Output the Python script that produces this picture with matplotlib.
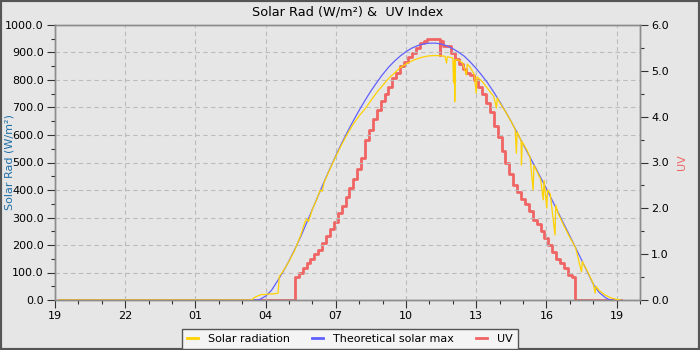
import matplotlib
matplotlib.use("Agg")
import matplotlib.pyplot as plt
from matplotlib.patches import Rectangle
from matplotlib.ticker import MultipleLocator

# -----------------------------
# Data (clock times, rolling over midnight; x axis = hours since 19:00)
# -----------------------------
X_TICK_LABELS = ["19", "22", "01", "04", "07", "10", "13", "16", "19"]

SOLAR_TIMES = [
    "19:10", "03:25", "03:30", "03:40", "03:50", "04:00", "04:10", "04:20", "04:32",
    "04:35", "04:45", "05:00", "05:15", "05:30", "05:40", "05:45", "05:50", "06:00",
    "06:10", "06:20", "06:25", "06:30", "06:45", "07:00", "07:15", "07:30", "07:45",
    "08:00", "08:15", "08:30", "08:45", "09:00", "09:15", "09:30", "09:45", "10:00",
    "10:15", "10:30", "10:45", "11:00", "11:15", "11:30", "11:40", "11:44", "11:46",
    "12:00", "12:02", "12:04", "12:05", "12:07", "12:15", "12:25", "12:35", "12:37",
    "12:45", "12:55", "13:00", "13:02", "13:15", "13:30", "13:45", "13:52", "13:54",
    "14:00", "14:15", "14:30", "14:40", "14:43", "14:45", "14:55", "14:56", "14:58",
    "15:10", "15:18", "15:26", "15:28", "15:40", "15:45", "15:52", "15:54", "16:01",
    "16:03", "16:10", "16:22", "16:24", "16:30", "16:45", "17:00", "17:15", "17:30",
    "17:32", "17:45", "18:00", "18:05", "18:07", "18:15", "18:30", "18:45", "19:00",
    "19:10",
]
SOLAR_VALUES = [
    0, 0, 8, 15, 20, 20, 22, 22, 25,
    85, 105, 140, 182, 235, 280, 295, 285, 330,
    362, 400, 395, 428, 476, 522, 565, 605, 640,
    670, 695, 725, 755, 780, 805, 825, 845, 858,
    870, 878, 884, 888, 889, 888, 886, 862, 885,
    880, 790, 870, 721, 875, 872, 862, 818, 858,
    845, 820, 752, 812, 795, 768, 740, 698, 735,
    718, 685, 648, 620, 533, 612, 580, 491, 575,
    545, 520, 400, 490, 455, 440, 364, 435, 334,
    400, 385, 236, 345, 315, 270, 228, 190, 102,
    140, 105, 60, 25, 50, 35, 18, 8, 2,
    0,
]

THEO_TIMES = [
    "19:10", "03:40", "03:45", "04:00", "04:15", "04:30", "04:45", "05:00", "05:15",
    "05:30", "05:45", "06:00", "06:15", "06:30", "06:45", "07:00", "07:15", "07:30",
    "07:45", "08:00", "08:15", "08:30", "08:45", "09:00", "09:15", "09:30", "09:45",
    "10:00", "10:15", "10:30", "10:45", "11:00", "11:15", "11:30", "11:45", "12:00",
    "12:15", "12:30", "12:45", "13:00", "13:15", "13:30", "13:45", "14:00", "14:15",
    "14:30", "14:45", "15:00", "15:15", "15:30", "15:45", "16:00", "16:15", "16:30",
    "16:45", "17:00", "17:15", "17:30", "17:45", "18:00", "18:15", "18:30", "18:40",
    "18:45", "19:10",
]
THEO_VALUES = [
    0, 0, 2, 14, 35, 68, 103, 142, 185,
    230, 280, 330, 380, 430, 478, 525, 570, 612,
    652, 690, 726, 760, 791, 820, 846, 868, 887,
    903, 916, 925, 931, 934, 934, 931, 924, 914,
    901, 886, 865, 842, 816, 788, 756, 722, 686,
    648, 608, 567, 527, 487, 446, 405, 362, 319,
    276, 233, 190, 146, 102, 58, 28, 10, 2,
    0, 0,
]

UV_TIMES = [
    "19:10", "05:15", "05:25", "05:35", "05:45", "05:55", "06:05", "06:15", "06:25",
    "06:35", "06:45", "06:55", "07:05", "07:15", "07:25", "07:35", "07:45", "07:55",
    "08:05", "08:15", "08:25", "08:35", "08:45", "08:55", "09:05", "09:15", "09:25",
    "09:35", "09:45", "09:55", "10:05", "10:15", "10:25", "10:35", "10:45", "10:55",
    "11:05", "11:15", "11:27", "11:28", "11:35", "11:45", "11:55", "12:05", "12:15",
    "12:25", "12:35", "12:45", "12:55", "13:05", "13:15", "13:25", "13:35", "13:45",
    "13:55", "14:05", "14:15", "14:25", "14:35", "14:45", "14:55", "15:05", "15:15",
    "15:25", "15:35", "15:45", "15:55", "16:05", "16:15", "16:25", "16:35", "16:45",
    "16:55", "17:05", "17:13", "19:10",
]
UV_VALUES = [
    0.0, 0.5, 0.6, 0.7, 0.8, 0.9, 1.0, 1.1, 1.25,
    1.4, 1.55, 1.7, 1.9, 2.05, 2.25, 2.45, 2.65, 2.85,
    3.1, 3.5, 3.7, 3.95, 4.15, 4.35, 4.5, 4.65, 4.85,
    4.95, 5.1, 5.2, 5.3, 5.4, 5.5, 5.6, 5.65, 5.7,
    5.7, 5.7, 5.35, 5.65, 5.55, 5.55, 5.4, 5.25, 5.15,
    5.05, 4.95, 4.9, 4.8, 4.65, 4.5, 4.3, 4.1, 3.8,
    3.55, 3.25, 3.0, 2.75, 2.5, 2.35, 2.2, 2.1, 1.95,
    1.75, 1.65, 1.5, 1.35, 1.2, 1.05, 0.9, 0.8, 0.7,
    0.55, 0.5, 0.0, 0.0,
]

# -----------------------------
# Style
# -----------------------------
BG = "#e6e6e6"
SPINE = "#8c8c8c"
GRID = "#bcbcbc"
C_SOLAR = "#ffd200"
C_THEO = "#6060ff"
C_UV = "#f06464"
C_LEFT_LABEL = "#1f6fa8"


def to_hours(times, start=19):
    """Clock strings -> hours since start, rolling past midnight."""
    out = []
    for s in times:
        h, m = s.split(":")
        v = (int(h) + int(m) / 60 - start) % 24
        while out and v < out[-1]:
            v += 24
        out.append(v)
    return out


def main():
    plt.rcParams["font.family"] = "DejaVu Sans"
    plt.rcParams["font.size"] = 8

    fig = plt.figure(figsize=(7, 3.5), dpi=100, facecolor=BG)
    ax = fig.add_axes([55 / 700, 50 / 350, 585 / 700, 275 / 350])
    ax.set_facecolor(BG)
    ax2 = ax.twinx()

    # UV sits on the twin axis, drawn underneath the radiation lines
    l3, = ax2.plot(to_hours(UV_TIMES), UV_VALUES, color=C_UV, lw=2.0,
                   drawstyle="steps-post", label="UV", zorder=2)
    l2, = ax.plot(to_hours(THEO_TIMES), THEO_VALUES, color=C_THEO, lw=0.9,
                  label="Theoretical solar max", zorder=3)
    l1, = ax.plot(to_hours(SOLAR_TIMES), SOLAR_VALUES, color=C_SOLAR, lw=0.9,
                  label="Solar radiation", zorder=4)
    ax.set_zorder(ax2.get_zorder() + 1)
    ax.patch.set_visible(False)
    ax2.set_facecolor(BG)

    ax.set_xlim(0, 25)
    ax.set_ylim(0, 1000)
    ax2.set_ylim(0, 6)

    ax.set_xticks(range(0, 25, 3))
    ax.set_xticklabels(X_TICK_LABELS)
    ax.xaxis.set_minor_locator(MultipleLocator(1))
    ax.yaxis.set_major_locator(MultipleLocator(100))
    ax.yaxis.set_minor_locator(MultipleLocator(50))
    ax.yaxis.set_major_formatter(lambda v, p: f"{v:.1f}")
    ax2.yaxis.set_major_locator(MultipleLocator(1))
    ax2.yaxis.set_minor_locator(MultipleLocator(0.5))
    ax2.yaxis.set_major_formatter(lambda v, p: f"{v:.1f}")

    for a in (ax, ax2):
        a.tick_params(which="major", length=6, width=0.8, color="#333333",
                      labelsize=8, pad=2)
        a.tick_params(which="minor", length=3, width=0.8, color="#333333")
        for sp in a.spines.values():
            sp.set_color(SPINE)
            sp.set_linewidth(1.0)

    ax.grid(True, which="major", color=GRID, linestyle=(0, (4, 3)), linewidth=0.8)
    ax.set_axisbelow(True)

    ax.set_title("Solar Rad (W/m²) &  UV Index", fontsize=9.3, pad=7)
    ax.set_ylabel("Solar Rad (W/m²)", color=C_LEFT_LABEL, fontsize=8)
    ax.yaxis.set_label_coords(-0.069, 0.5)
    ax2.set_ylabel("UV", color=C_UV, fontsize=8)
    ax2.yaxis.set_label_coords(1.064, 0.5)

    leg = fig.legend(handles=[l1, l2, l3], loc="lower center",
                     bbox_to_anchor=(0.5, -0.012), ncol=3, fontsize=8,
                     handlelength=1.0, columnspacing=2.0, handletextpad=0.9,
                     frameon=True, fancybox=False, borderpad=0.45)
    leg.get_frame().set_edgecolor("#555555")
    leg.get_frame().set_facecolor("#f4f4f4")
    leg.get_frame().set_alpha(1)
    leg.get_frame().set_linewidth(1.0)
    for h in leg.get_lines():
        h.set_linewidth(2)

    fig.patches.append(Rectangle((0, 0), 1, 1, transform=fig.transFigure,
                                 fill=False, edgecolor="#555555", linewidth=3))

    fig.savefig("out.png", dpi=100, facecolor=BG)
    plt.close(fig)


if __name__ == "__main__":
    main()
